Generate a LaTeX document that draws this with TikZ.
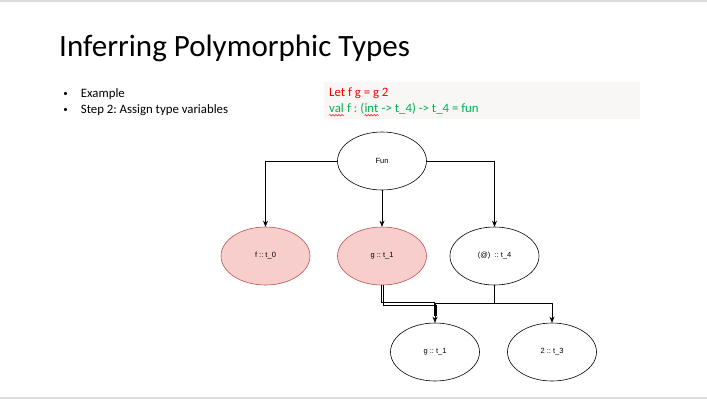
\documentclass[tikz,border=0pt]{standalone}
\usepackage{fontspec}
\setmainfont{Carlito}
\newfontfamily\labelfont{Liberation Sans}
\usetikzlibrary{arrows.meta,decorations.pathmorphing,shapes.geometric}
\frenchspacing
\definecolor{pinkfill}{HTML}{F8CECC}
\definecolor{pinkline}{HTML}{B85450}
\definecolor{codebg}{HTML}{F8F7F5}
\definecolor{codered}{HTML}{FF0000}
\definecolor{codegreen}{HTML}{00B050}
\definecolor{rulegray}{HTML}{DCDCDC}
\tikzset{
  term/.style={ellipse, draw=black, line width=0.6pt, minimum width=89pt,
    minimum height=58pt, inner sep=0pt, font=\labelfont\fontsize{7.5}{9}\selectfont},
  bound/.style={term, fill=pinkfill, draw=pinkline},
  link/.style={draw=black, line width=0.65pt, -{Stealth[length=6pt,width=5pt]}},
  rail/.style={draw=black, line width=0.6pt},
  bodytxt/.style={inner sep=0pt, anchor=base west, font=\fontsize{12.8}{15}\selectfont},
  codetxt/.style={bodytxt},
  squiggle/.style={draw=codered, line width=0.5pt,
    decorate, decoration={snake, amplitude=0.8pt, segment length=3pt}},
}
\begin{document}
\begin{tikzpicture}[x=1pt,y=-1pt]
\useasboundingbox (0,0) rectangle (707,402);
\fill[white] (0,0) rectangle (707,402);
% slide frame rules
\fill[rulegray] (0,0) rectangle (707,1.5);
\fill[rulegray] (0,397) rectangle (707,399);

% title and bullets
\node[inner sep=0pt, anchor=base west, font=\fontsize{31}{35}\selectfont] (title) at (59,56.7) {Inferring Polymorphic Types};
\node[bodytxt] (b1) at (80.7,97.3) {Example};
\node[bodytxt] (b2) at (80.7,113.3) {Step 2: Assign type variables};
\node[inner sep=0pt, anchor=base, font=\fontsize{9}{10}\selectfont] (d1) at (65.5,96.5) {•};
\node[inner sep=0pt, anchor=base, font=\fontsize{9}{10}\selectfont] (d2) at (65.5,112.5) {•};

% code box
\fill[codebg] (324,81.7) rectangle (640,119.3);
\node[codetxt, text=codered] (c1) at (329,96.7) {Let f g = g 2};
\node[codetxt, text=codegreen] (c2a) at (329,112.3) {val};
\node[codetxt, text=codegreen] (c2b) at (c2a.base east) {\ f : (};
\node[codetxt, text=codegreen] (c2c) at (c2b.base east) {int};
\node[codetxt, text=codegreen] (c2d) at (c2c.base east) {\ -> t\_4) -> t\_4 = fun};
\draw[squiggle] ([yshift=-3pt]c2a.base west) -- ([yshift=-3pt]c2a.base east);
\draw[squiggle] ([yshift=-3pt]c2c.base west) -- ([yshift=-3pt]c2c.base east);

% syntax tree
\node[term]  (fun) at (382,161) {Fun};
\node[bound] (f0)  at (265.5,256) {f :: t\_0};
\node[bound] (g1)  at (382,256) {g :: t\_1};
\node[term]  (app) at (494.5,256) {(@) \ :: t\_4};
\node[term]  (g1b) at (435,352) {g :: t\_1};
\node[term]  (t3)  at (552,352) {2 :: t\_3};

% double connector from g :: t_1 down to its copy
\draw[rail] ([xshift=-1.1pt]g1.south) |- ([xshift=-1.1pt,yshift=1.1pt]g1b.north |- 0,303.8) -- ([xshift=-1.1pt]g1b.north |- 0,316);
\draw[rail] ([xshift=1.1pt]g1.south) |- ([xshift=1.1pt,yshift=-1.1pt]g1b.north |- 0,303.8) -- ([xshift=1.1pt]g1b.north |- 0,316);

\coordinate (split) at (494.5,303.5);
\draw[link] (fun.west) -| (f0.north);
\draw[link] (fun.south) -- (g1.north);
\draw[link] (fun.east) -| (app.north);
\draw[link] (app.south) -- (split) -| (g1b.north);
\draw[link] (split) -| (t3.north);
\end{tikzpicture}
\end{document}
